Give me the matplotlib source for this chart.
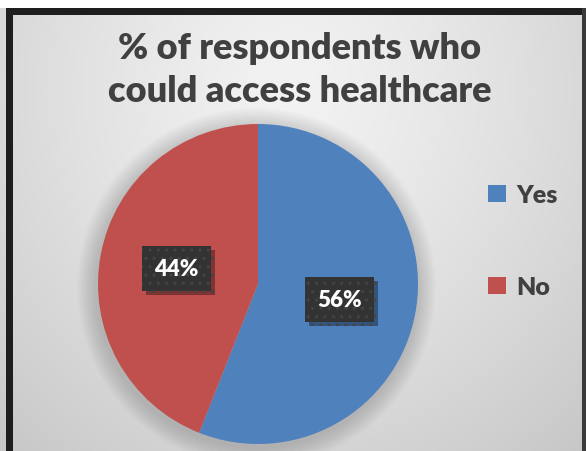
import matplotlib.pyplot as plt
import matplotlib.patheffects as pe
from matplotlib.patches import Rectangle, Circle
import numpy as np

labels = ['Yes', 'No']
shares = [56, 44]
colors = ['#4F81BD', '#C0504D']
title = '% of respondents who\ncould access healthcare'

plt.rcParams['font.family'] = ['Lato', 'DejaVu Sans']

W, H = 586, 452
fig = plt.figure(figsize=(W / 100, H / 100), dpi=100)
fig.patch.set_facecolor('white')

# background panel with soft radial gradient, framed in black
bg = fig.add_axes([0, 0, 1, 1])
bg.set_xlim(0, W)
bg.set_ylim(H, 0)
bg.axis('off')
yy, xx = np.mgrid[0:H, 0:W]
d = np.hypot((xx - 290) / 1.0, (yy - 90) / 1.1)
shade = np.clip(0.95 - 0.16 * (d / 420) ** 1.3, 0.76, 0.95)
img = np.dstack([shade, shade, shade])
bg.imshow(img, extent=(0, W, H, 0), zorder=0)
bg.add_patch(Rectangle((0, 0), W, 9, facecolor='white', edgecolor='none', zorder=1))
bg.add_patch(Rectangle((6, 9), 7, H, facecolor='#1e1e1e', edgecolor='none', zorder=2))
bg.add_patch(Rectangle((6, 9), W, 7, facecolor='#1e1e1e', edgecolor='none', zorder=2))
bg.add_patch(Rectangle((582, 9), 6, H, facecolor='#3a3a3a', edgecolor='none', zorder=2))

bg.text(300, 70, title, ha='center', va='center', fontsize=26,
        fontweight='heavy', color='#404040', linespacing=1.36, zorder=3)

# pie
cx, cy, r = 258, 285, 160
ax = fig.add_axes([(cx - r) / W, (H - cy - r) / H, 2 * r / W, 2 * r / H])
ax.set_aspect('equal')
ax.axis('off')

# soft glow behind the pie
for k in range(10):
    ax.add_patch(Circle((-0.01, -0.02), 1.0 + 0.012 * (k + 1), facecolor='black',
                        edgecolor='none', alpha=0.016, zorder=0, clip_on=False))

wedges, texts, autotexts = ax.pie(
    shares, colors=colors, startangle=90, counterclock=False, radius=1,
    autopct='%1.0f%%', pctdistance=0.52,
    wedgeprops=dict(linewidth=0, zorder=2),
    textprops=dict(color='white', fontsize=16, fontweight='heavy'))
ax.set_xlim(-1, 1)
ax.set_ylim(-1, 1)

for t in autotexts:
    t.set_zorder(5)
    t.set_bbox(dict(boxstyle='square,pad=0.55', facecolor='#333333',
                    edgecolor='#444444', linewidth=0, hatch='..'))
    t.get_bbox_patch().set_path_effects(
        [pe.SimplePatchShadow(offset=(3, -3), shadow_rgbFace='black', alpha=0.35),
         pe.Normal()])

leg = fig.legend(wedges, labels, loc='center left',
                 bbox_to_anchor=(466 / W, 1 - 242 / H), frameon=False,
                 handlelength=0.7, handleheight=0.7, handletextpad=0.4,
                 labelspacing=2.8, prop=dict(size=18, weight='heavy'))
for txt in leg.get_texts():
    txt.set_color('#404040')

fig.savefig('out.png', dpi=100)
